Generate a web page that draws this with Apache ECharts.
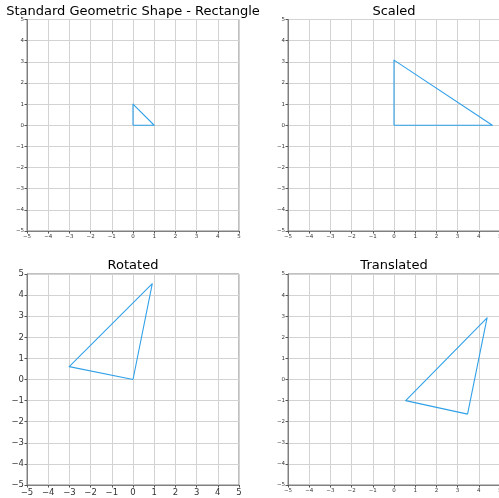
<!DOCTYPE html>
<html>
<head>
<meta charset="utf-8">
<script src="https://cdn.jsdelivr.net/npm/echarts@6/dist/echarts.min.js"></script>
<style>
  html, body { margin: 0; padding: 0; background: #fff; }
  #chart { width: 499px; height: 498px; }
</style>
</head>
<body>
<div id="chart"></div>
<script>
// Axis ticks shared by every panel
const tickValues = [-5, -4, -3, -2, -1, 0, 1, 2, 3, 4, 5];

// Panel titles
const panelTitles = ['Standard Geometric Shape - Rectangle', 'Scaled', 'Rotated', 'Translated'];

// Triangle vertices (closed paths) for each transformation step
const baseShape = [[0, 0], [0, 1], [1, 0], [0, 0]];
const scaledShape = [[0, 0], [0, 3.08], [4.64, 0], [0, 0]];
const rotatedShape = [[0, 0], [0.91, 4.54], [-3.01, 0.61], [0, 0]];
const translatedShape = [[3.47, -1.64], [4.39, 2.92], [0.55, -1.0], [3.47, -1.64]];

const shapes = [baseShape, scaledShape, rotatedShape, translatedShape];

// Panel boxes and tick label sizes
const panels = [
  { left: 27, top: 19.5, width: 212, height: 211.5, font: 5.5, titleX: 133, titleY: 5.5 },
  { left: 288, top: 19.5, width: 212, height: 211.5, font: 5.5, titleX: 394, titleY: 5.5 },
  { left: 27, top: 274, width: 212, height: 211, font: 8.5, titleX: 133, titleY: 259.5 },
  { left: 288, top: 274, width: 212, height: 211, font: 5.5, titleX: 394, titleY: 259.5 }
];

const fmt = v => String(v).replace('-', '\u2212');
const fontFamily = 'DejaVu Sans';

const grid = [], xAxis = [], yAxis = [], series = [], title = [];
panels.forEach((p, i) => {
  grid.push({
    left: p.left, top: p.top, width: p.width, height: p.height,
    outerBoundsMode: 'none', containLabel: false,
    show: true, borderColor: '#808080', borderWidth: 1, backgroundColor: 'transparent'
  });
  title.push({
    text: panelTitles[i], left: p.titleX, top: p.titleY, textAlign: 'center', padding: 0,
    textStyle: { fontFamily, fontSize: 13, fontWeight: 'normal', color: '#000' }
  });
  const axisCommon = {
    type: 'value', gridIndex: i,
    min: tickValues[0], max: tickValues[tickValues.length - 1], interval: 1,
    axisLine: { show: true, onZero: false, lineStyle: { color: '#808080', width: 1 } },
    axisTick: { show: true, length: 2.5, lineStyle: { color: '#555' } },
    axisLabel: { formatter: fmt, fontSize: p.font, fontFamily, color: '#333', margin: 3 },
    splitLine: { show: true, lineStyle: { color: '#d3d3d3', width: 1 } }
  };
  xAxis.push(Object.assign({}, axisCommon, { position: 'bottom' }));
  yAxis.push(Object.assign({}, axisCommon, { position: 'left' }));
  series.push({
    type: 'line', xAxisIndex: i, yAxisIndex: i,
    data: shapes[i], showSymbol: false, symbol: 'none', smooth: false,
    lineStyle: { color: '#31a1e8', width: 1.1, join: 'round' },
    animation: false
  });
});

const chart = echarts.init(document.getElementById('chart'), null, { renderer: 'canvas' });
chart.setOption({ animation: false, title, grid, xAxis, yAxis, series });
</script>
</body>
</html>
